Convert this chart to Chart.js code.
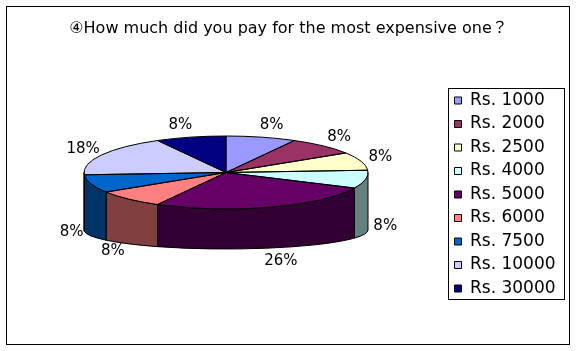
<!DOCTYPE html>
<html>
<head>
<meta charset="utf-8">
<script src="https://cdn.jsdelivr.net/npm/chart.js@4.4.1/dist/chart.umd.min.js"></script>
<style>
html, body { margin: 0; padding: 0; background: #fff; }
canvas { display: block; }
</style>
</head>
<body>
<canvas id="chart" width="577" height="351"></canvas>
<script>
var titleText = '④How much did you pay for the most expensive one？';
var categories = ['Rs. 1000', 'Rs. 2000', 'Rs. 2500', 'Rs. 4000', 'Rs. 5000', 'Rs. 6000', 'Rs. 7500', 'Rs. 10000', 'Rs. 30000'];
var shares = [8, 8, 8, 8, 26, 8, 8, 18, 8];
var sliceColors = ['#9999FF', '#993366', '#FFFFCC', '#CCFFFF', '#660066', '#FF8080', '#0066CC', '#CCCCFF', '#000080'];

// where the tilted pie sits (top face ellipse + bottom rim)
var pie3d = { cx: 226, cy: 172.5, rx: 142, ry: 36.5, cyBottom: 230, ryBottom: 19 };
var legendBox = { left: 448, top: 88, right: 564, bottom: 299 };
var fontFamily = '"DejaVu Sans", "Noto Sans CJK JP", sans-serif';

function darker(hex) {
	var n = parseInt(hex.slice(1), 16);
	var r = (n >> 16) & 255, g = (n >> 8) & 255, b = n & 255;
	return 'rgb(' + Math.round(r / 2) + ',' + Math.round(g / 2) + ',' + Math.round(b / 2) + ')';
}

var pie3dPlugin = {
	id: 'pie3d',
	afterLayout: function (chart) {
		// legend items start just inside the framed box
		var lg = chart.legend;
		lg.left = legendBox.left;
		lg.top = legendBox.top - 2.5;
		lg.right = legendBox.right;
		lg.bottom = legendBox.bottom + 20;
		lg.width = lg.right - lg.left;
		lg.height = lg.bottom - lg.top;
	},
	beforeDatasetsDraw: function (chart) {
		var ctx = chart.ctx;
		var p = pie3d;
		var arcs = chart.getDatasetMeta(0).data;
		// side walls, front half only
		ctx.save();
		ctx.lineWidth = 1;
		ctx.strokeStyle = '#000';
		arcs.forEach(function (arc, i) {
			var a = Math.max(arc.startAngle, 0);
			var b = Math.min(arc.endAngle, Math.PI);
			if (b <= a) return;
			ctx.beginPath();
			ctx.ellipse(p.cx, p.cy, p.rx, p.ry, 0, a, b);
			ctx.lineTo(p.cx + p.rx * Math.cos(b), p.cyBottom + p.ryBottom * Math.sin(b));
			ctx.ellipse(p.cx, p.cyBottom, p.rx, p.ryBottom, 0, b, a, true);
			ctx.closePath();
			ctx.fillStyle = darker(sliceColors[i]);
			ctx.fill();
			ctx.stroke();
		});
		ctx.restore();
		// squash the library's circle onto the top ellipse
		var c = arcs[0];
		ctx.save();
		ctx.translate(p.cx, p.cy);
		ctx.scale(p.rx / c.outerRadius, p.ry / c.outerRadius);
		ctx.translate(-c.x, -c.y);
	},
	afterDatasetsDraw: function (chart) {
		var ctx = chart.ctx;
		var p = pie3d;
		ctx.restore();
		var arcs = chart.getDatasetMeta(0).data;
		var total = shares.reduce(function (s, v) { return s + v; }, 0);
		ctx.save();
		ctx.lineWidth = 1;
		ctx.strokeStyle = '#000';
		arcs.forEach(function (arc) {
			ctx.beginPath();
			ctx.moveTo(p.cx, p.cy);
			ctx.ellipse(p.cx, p.cy, p.rx, p.ry, 0, arc.startAngle, arc.endAngle);
			ctx.closePath();
			ctx.stroke();
		});
		ctx.fillStyle = '#000';
		ctx.font = '15px ' + fontFamily;
		ctx.textAlign = 'center';
		ctx.textBaseline = 'middle';
		arcs.forEach(function (arc, i) {
			var m = (arc.startAngle + arc.endAngle) / 2;
			var cs = Math.cos(m), sn = Math.sin(m);
			var x = p.cx + (p.rx + 13) * cs + 7 * Math.sign(cs);
			var y = sn < 0 ? p.cy + 49 * sn : p.cy + 45 + 46 * sn;
			ctx.fillText(Math.round(shares[i] / total * 100) + '%', x, y);
		});
		ctx.restore();
	},
	afterDraw: function (chart) {
		var ctx = chart.ctx;
		var b = legendBox;
		ctx.save();
		ctx.lineWidth = 1;
		ctx.strokeStyle = '#000';
		ctx.strokeRect(b.left + 0.5, b.top + 0.5, b.right - b.left, b.bottom - b.top);
		ctx.strokeRect(6.5, 6.5, 563, 338);
		ctx.restore();
	}
};

var chart = new Chart(document.getElementById('chart'), {
	type: 'pie',
	data: {
		labels: categories,
		datasets: [{
			data: shares,
			backgroundColor: sliceColors,
			borderWidth: 0,
			hoverOffset: 0
		}]
	},
	options: {
		responsive: false,
		animation: false,
		events: [],
		layout: { padding: { left: 0, right: 0, top: 0, bottom: 20 } },
		plugins: {
			title: {
				display: true,
				text: titleText,
				color: '#000',
				font: { family: fontFamily, size: 16, weight: 'normal' },
				padding: { top: 19, bottom: 10 }
			},
			legend: {
				position: 'chartArea',
				align: 'start',
				labels: {
					boxWidth: 7,
					boxHeight: 7,
					padding: 6.5,
					color: '#000',
					font: { family: fontFamily, size: 17 },
					generateLabels: function (chart) {
						var items = Chart.overrides.doughnut.plugins.legend.labels.generateLabels(chart);
						items.forEach(function (it) {
							it.lineWidth = 1;
							it.strokeStyle = '#000';
						});
						return items;
					}
				}
			},
			tooltip: { enabled: false }
		}
	},
	plugins: [pie3dPlugin]
});
</script>
</body>
</html>
